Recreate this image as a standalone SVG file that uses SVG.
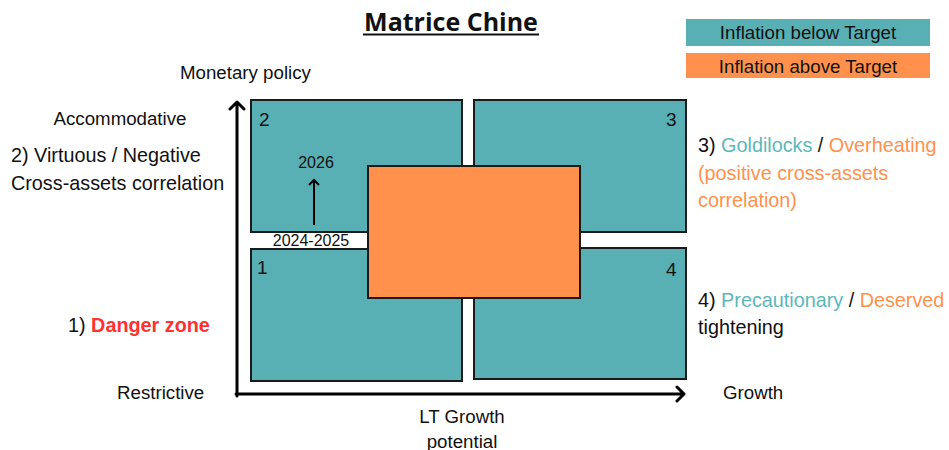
<svg xmlns="http://www.w3.org/2000/svg" width="949" height="450" viewBox="0 0 949 450">
  <style>
    text { font-family: "Liberation Sans", Arial, sans-serif; fill: #111; }
    .lbl { font-size: 19.8px; }
    .sm { font-size: 18.7px; }
    .num { font-size: 19px; }
    .yr { font-size: 16px; }
    .teal { fill: #58B0B4; stroke: #1a1a1a; stroke-width: 2; }
    .orange { fill: #FF914D; stroke: #1a1a1a; stroke-width: 2; }
    .tT { fill: #5CB8BA; }
    .tO { fill: #FF914D; }
    .axis { stroke: #000; stroke-width: 3; fill: none; stroke-linecap: round; stroke-linejoin: round; }
    .thin { stroke: #000; stroke-width: 2; fill: none; }
  </style>

  <rect width="949" height="450" fill="#fff"/>

  <!-- title -->
  <g id="title">
    <text x="451" y="31" text-anchor="middle" style="font-family:'Open Sans','Liberation Sans',sans-serif;font-weight:bold;font-size:25px">Matrice Chine</text>
    <line x1="363" y1="34.5" x2="539" y2="34.5" stroke="#111" stroke-width="2"/>
  </g>

  <!-- legend -->
  <g id="legend">
    <rect x="686" y="19" width="244" height="27" fill="#58B0B4"/>
    <text class="sm" x="808" y="39" text-anchor="middle">Inflation below Target</text>
    <rect x="686" y="53" width="244" height="25" fill="#FF914D"/>
    <text class="sm" x="808" y="73" text-anchor="middle">Inflation above Target</text>
  </g>

  <!-- quadrants -->
  <g id="q2">
    <rect class="teal" x="251" y="100" width="211" height="132"/>
    <text class="num" x="259" y="126">2</text>
  </g>
  <g id="q3">
    <rect class="teal" x="474" y="100" width="212" height="132"/>
    <text class="num" x="666" y="126">3</text>
  </g>
  <g id="q1">
    <rect class="teal" x="251" y="249" width="211" height="132"/>
    <text class="num" x="257" y="274">1</text>
  </g>
  <g id="q4">
    <rect class="teal" x="474" y="248" width="212" height="131"/>
    <text class="num" x="666" y="276">4</text>
  </g>
  <g id="inflation-box">
    <rect class="orange" x="368" y="166" width="212" height="132"/>
  </g>

  <!-- year markers -->
  <g id="years">
    <text class="yr" x="311" y="246" text-anchor="middle">2024-2025</text>
    <text class="yr" x="316" y="168" text-anchor="middle">2026</text>
  </g>

  <!-- connectors -->
  <g id="connectors">
    <path class="axis" d="M237,396 V102 M230,109 L237,102 L244,109"/>
    <path class="axis" d="M236,394 H684 M677,387 L684,394 L677,401"/>
    <path class="thin" d="M314,225 V180 M309,185 L314,180 L319,185"/>
  </g>

  <!-- axis labels -->
  <g id="axis-labels">
    <text class="sm" x="180" y="79">Monetary policy</text>
    <text class="sm" x="120" y="125" text-anchor="middle">Accommodative</text>
    <text class="sm" x="117" y="399">Restrictive</text>
    <text class="sm" x="723" y="399">Growth</text>
    <text class="sm" x="462" y="423" text-anchor="middle">LT Growth</text>
    <text class="sm" x="462" y="448" text-anchor="middle">potential</text>
  </g>

  <!-- regime descriptions -->
  <g id="regimes">
    <text class="lbl" x="11" y="162">2) Virtuous / Negative</text>
    <text class="lbl" x="11" y="190">Cross-assets correlation</text>
    <text class="lbl" x="68" y="332">1) <tspan style="fill:#FF3131;font-weight:bold">Danger zone</tspan></text>
    <text class="lbl" x="698" y="152">3) <tspan class="tT">Goldilocks</tspan> / <tspan class="tO">Overheating</tspan></text>
    <text class="lbl tO" x="698" y="180">(positive cross-assets</text>
    <text class="lbl tO" x="698" y="207">correlation)</text>
    <text class="lbl" x="698" y="307">4) <tspan class="tT">Precautionary</tspan> / <tspan class="tO">Deserved</tspan></text>
    <text class="lbl" x="698" y="334">tightening</text>
  </g>
</svg>
